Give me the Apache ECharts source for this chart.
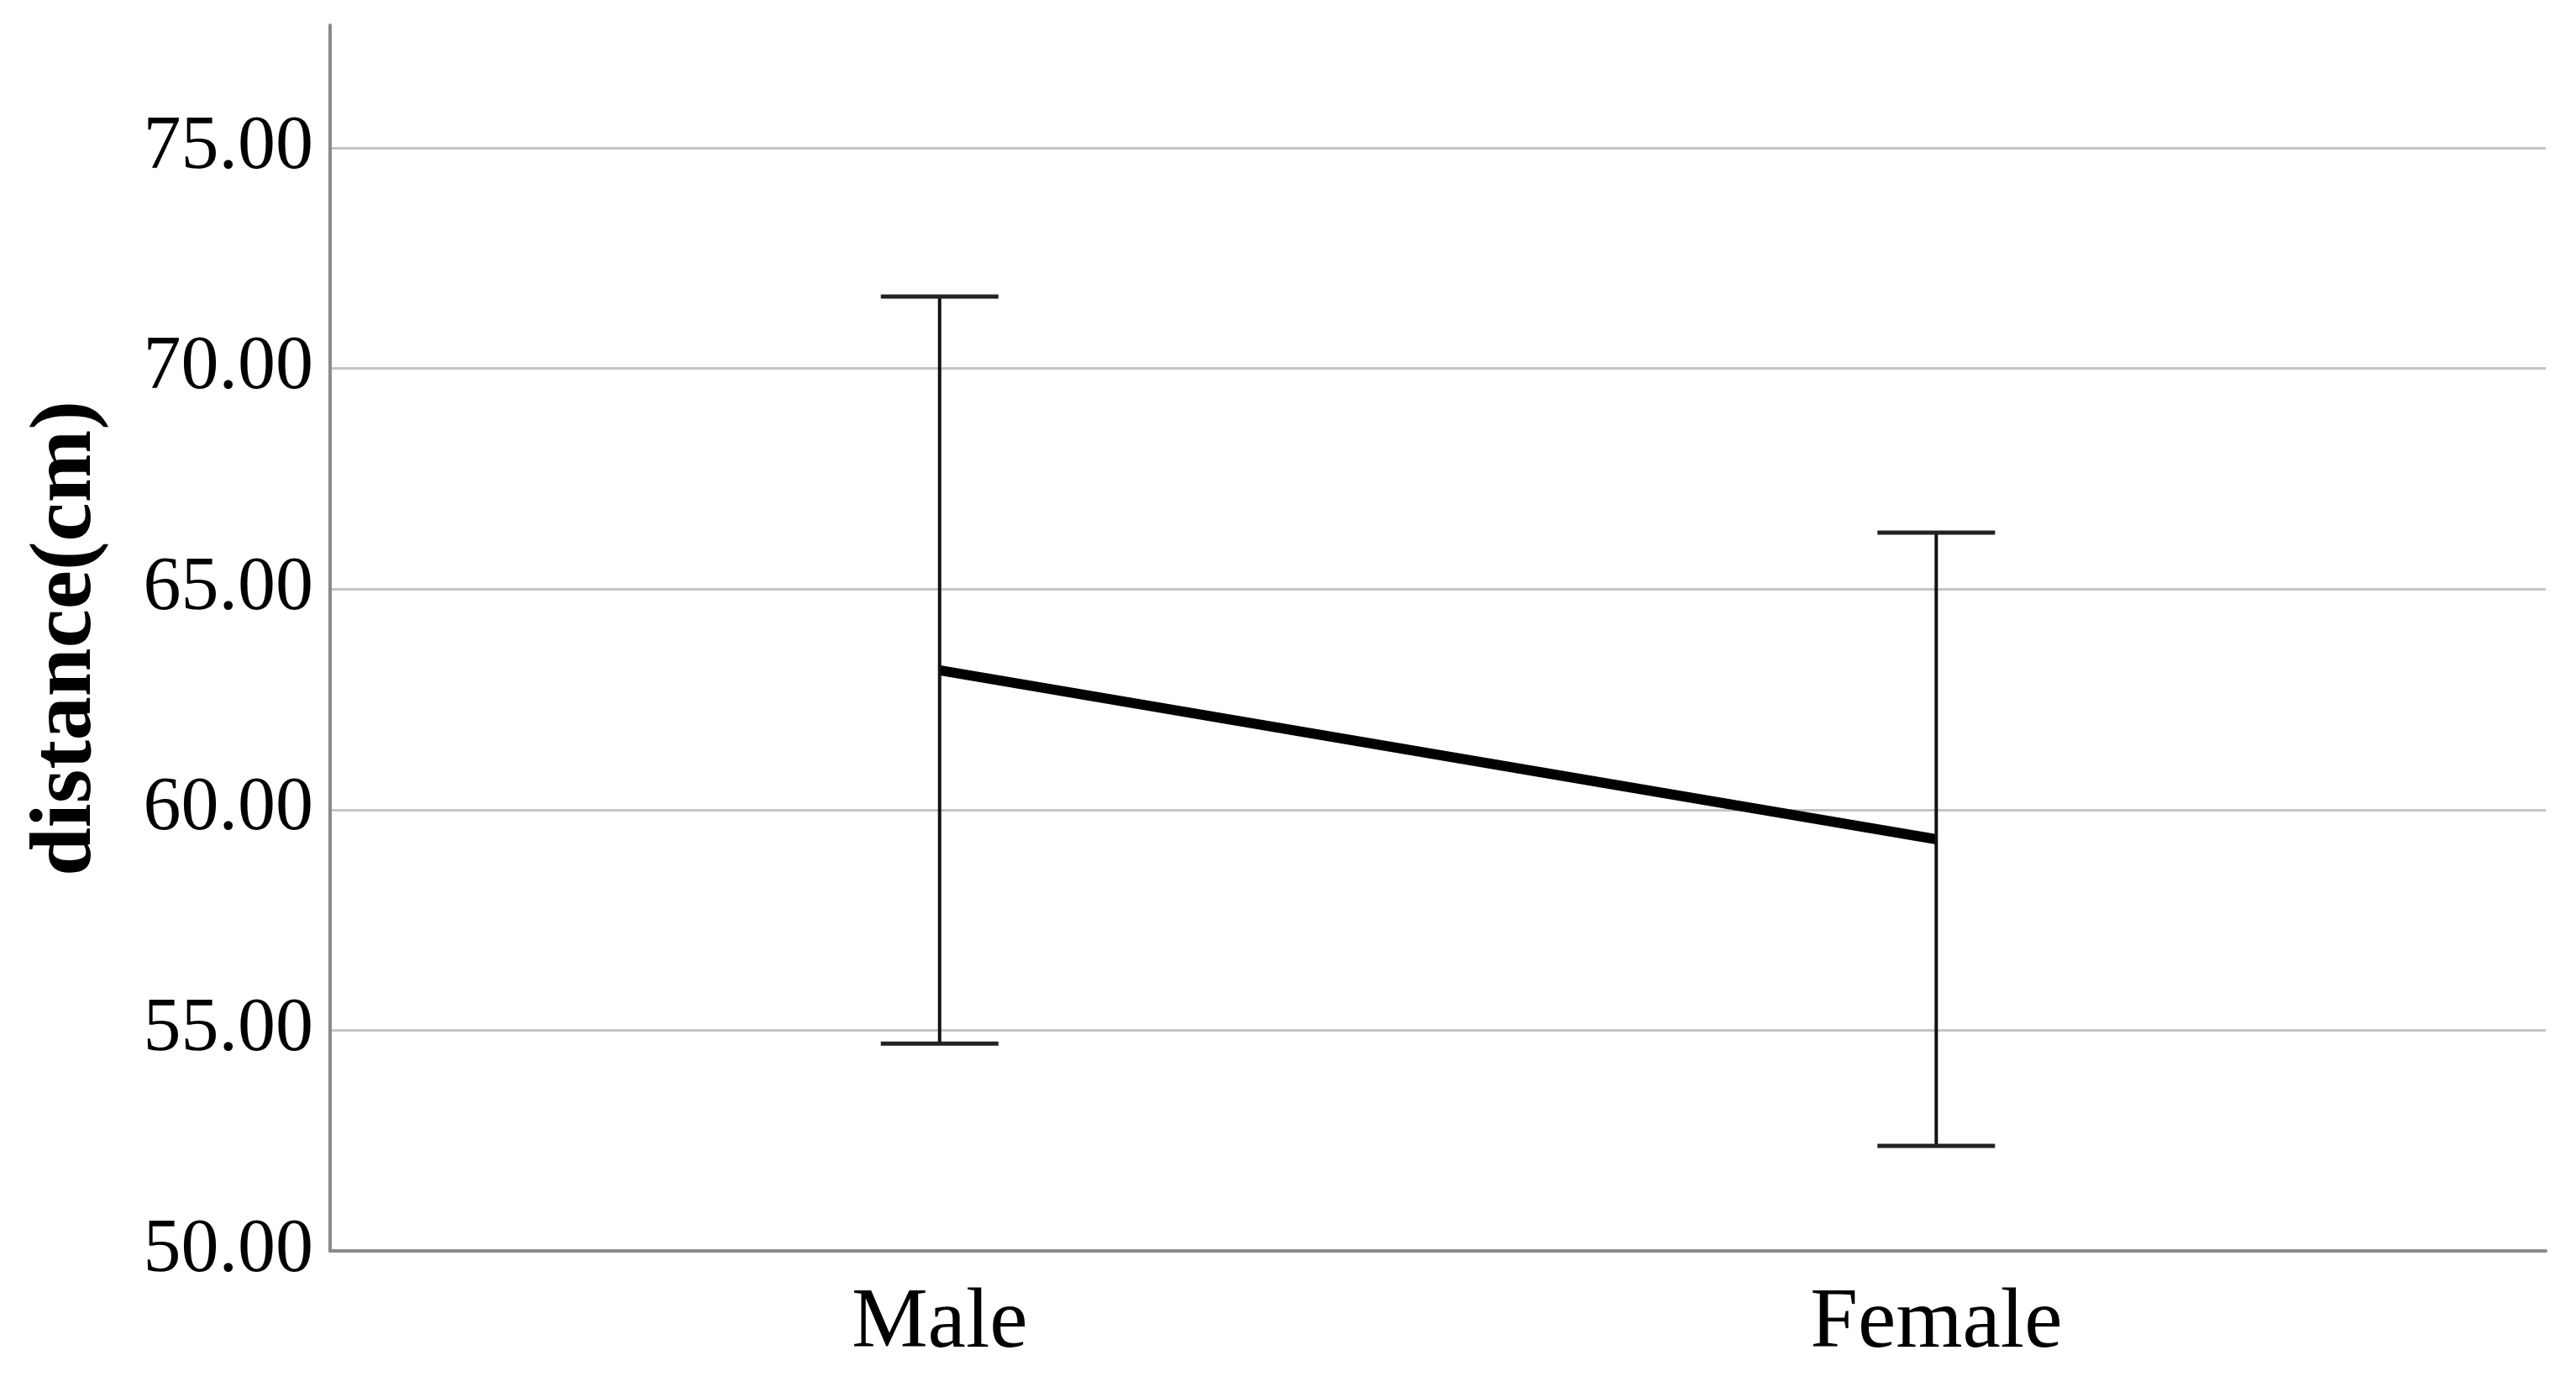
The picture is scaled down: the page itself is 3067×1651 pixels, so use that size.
<!DOCTYPE html>
<html>
<head>
<meta charset="utf-8">
<script src="https://cdn.jsdelivr.net/npm/echarts@6/dist/echarts.min.js"></script>
<style>
html,body{margin:0;padding:0;background:#fff;}
#chart{width:3067px;height:1651px;}
</style>
</head>
<body>
<div id="chart"></div>
<script>
const categories = ['Male', 'Female'];
const means = [63.16, 59.33];
const upper = [71.63, 66.28];
const lower = [54.70, 52.38];
const yTicks = [50, 55, 60, 65, 70, 75];
const yTitle = 'distance(cm)';

const chart = echarts.init(document.getElementById('chart'));
const FONT = '"Liberation Serif", "Times New Roman", serif';

const lineData = categories.map((c, i) => [i, means[i]]);
const errData = categories.map((c, i) => [i, lower[i], upper[i]]);

chart.setOption({
  animation: false,
  backgroundColor: '#fff',
  grid: { left: 393, right: 36, top: 30, bottom: 162, containLabel: false },
  xAxis: {
    type: 'value',
    min: -0.6116,
    max: 1.6116,
    splitLine: { show: false },
    axisTick: { show: false },
    axisLine: { show: true, onZero: false, lineStyle: { color: '#8a8a8a', width: 4 } },
    axisLabel: {
      customValues: categories.map((c, i) => i),
      formatter: v => categories[Math.round(v)] || '',
      fontFamily: FONT, fontSize: 102, color: '#000', margin: 36
    }
  },
  yAxis: {
    type: 'value',
    min: yTicks[0],
    max: 77.78,
    interval: 5,
    axisTick: { show: false },
    axisLine: { show: true, onZero: false, lineStyle: { color: '#8a8a8a', width: 4 } },
    splitLine: { show: true, showMinLine: false, showMaxLine: false, lineStyle: { color: '#c4c4c4', width: 3 } },
    axisLabel: {
      showMaxLabel: false,
      formatter: v => yTicks.includes(v) ? v.toFixed(2) : '',
      fontFamily: FONT, fontSize: 90, color: '#000', margin: 20
    }
  },
  graphic: [{
    type: 'text',
    x: 80, y: 760,
    rotation: Math.PI / 2,
    style: {
      text: yTitle,
      font: 'bold 104px ' + FONT,
      fill: '#000',
      textAlign: 'center',
      textVerticalAlign: 'middle'
    }
  }],
  series: [
    {
      type: 'line',
      data: lineData,
      symbol: 'none',
      lineStyle: { color: '#000', width: 12 },
      z: 3
    },
    {
      type: 'custom',
      data: errData,
      z: 4,
      renderItem: function (params, api) {
        const x = api.value(0);
        const lo = api.coord([x, api.value(1)]);
        const hi = api.coord([x, api.value(2)]);
        const hw = 70;
        return {
          type: 'group',
          children: [
            { type: 'line', shape: { x1: lo[0], y1: lo[1], x2: hi[0], y2: hi[1] }, style: { stroke: '#111', lineWidth: 4 } },
            { type: 'line', shape: { x1: hi[0] - hw, y1: hi[1], x2: hi[0] + hw, y2: hi[1] }, style: { stroke: '#222', lineWidth: 5 } },
            { type: 'line', shape: { x1: lo[0] - hw, y1: lo[1], x2: lo[0] + hw, y2: lo[1] }, style: { stroke: '#222', lineWidth: 5 } }
          ]
        };
      }
    }
  ]
});
</script>
</body>
</html>
